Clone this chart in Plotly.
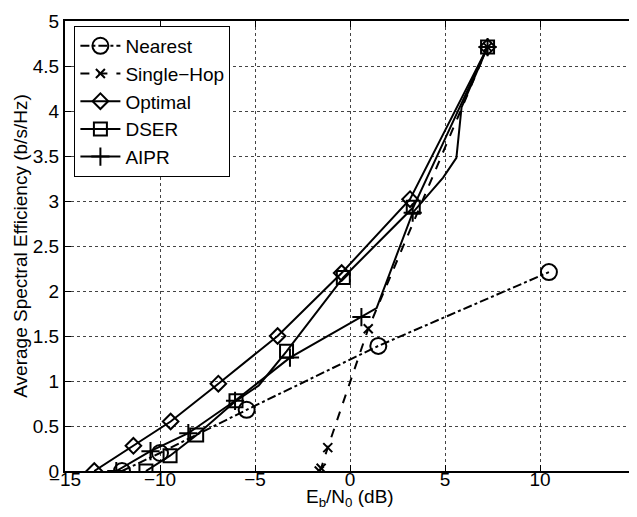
import plotly.graph_objects as go

# ---- data ----
nearest_x = [-12.0, -10.0, -5.44, 1.49, 10.47]
nearest_y = [0.0, 0.20, 0.68, 1.39, 2.21]

single_x = [-1.62, -1.52, -1.17, 0.96, 7.24]
single_y = [0.0, 0.03, 0.26, 1.58, 4.71]

optimal_x = [-13.46, -11.4, -9.44, -6.93, -3.81, -0.44, 3.16, 7.24]
optimal_y = [0.0, 0.28, 0.55, 0.97, 1.50, 2.20, 3.02, 4.71]

dser_x = [-10.74, -9.47, -8.07, -6.0, -4.8, -4.35, -3.34, -0.35, 3.33, 7.24]
dser_y = [0.0, 0.17, 0.40, 0.78, 0.95, 1.07, 1.33, 2.15, 2.93, 4.71]
dser_marked = [1, 1, 1, 1, 0, 0, 1, 1, 1, 1]

aipr_x = [-12.3, -10.5, -8.51, -6.05, -3.16, 0.6, 1.4, 3.3, 4.9, 5.6, 5.87, 7.24]
aipr_y = [0.0, 0.22, 0.42, 0.78, 1.26, 1.71, 1.81, 2.87, 3.26, 3.48, 4.04, 4.71]
aipr_marked = [1, 1, 1, 1, 1, 1, 0, 1, 0, 0, 0, 1]

x_ticks = [-15, -10, -5, 0, 5, 10, 15]
y_ticks = [0, 0.5, 1, 1.5, 2, 2.5, 3, 3.5, 4, 4.5, 5]

FONT = "Liberation Sans, Arial, Helvetica, sans-serif"
FS = 19
BLACK = "black"
LW = 2

fig = go.Figure()

def add(name, xs, ys, symbol, size, dash, marked=None):
    line = dict(color=BLACK, width=LW, dash=dash)
    marker = dict(symbol=symbol, size=size, color=BLACK,
                  line=dict(color=BLACK, width=2))
    if marked is None:
        fig.add_trace(go.Scatter(x=xs, y=ys, name=name, mode="lines+markers",
                                 line=line, marker=marker, legendgroup=name))
        return
    # full path (some vertices carry no marker in the reference)
    fig.add_trace(go.Scatter(x=xs, y=ys, mode="lines", line=line,
                             showlegend=False, legendgroup=name, hoverinfo="skip"))
    mx = [x for x, m in zip(xs, marked) if m]
    my = [y for y, m in zip(ys, marked) if m]
    fig.add_trace(go.Scatter(x=mx, y=my, mode="markers", marker=marker,
                             showlegend=False, legendgroup=name, name=name))
    # legend entry
    fig.add_trace(go.Scatter(x=[None], y=[None], name=name, mode="lines+markers",
                             line=line, marker=marker, legendgroup=name))

add("Nearest", nearest_x, nearest_y, "circle-open", 16, "dashdot")
add("Single\u2212Hop", single_x, single_y, "x-thin-open", 9, "dash")
add("Optimal", optimal_x, optimal_y, "diamond-open", 12, "solid")
add("DSER", dser_x, dser_y, "square-open", 13, "solid", dser_marked)
add("AIPR", aipr_x, aipr_y, "cross-thin-open", 13, "solid", aipr_marked)

axis_common = dict(
    showline=True, linecolor=BLACK, linewidth=2, mirror="allticks",
    ticks="inside", ticklen=6, tickwidth=1, tickcolor=BLACK,
    showgrid=True, gridcolor="#444444", griddash="dot", gridwidth=1,
    zeroline=False,
    tickfont=dict(family=FONT, size=FS, color=BLACK),
)

fig.update_layout(
    width=637, height=517,
    margin=dict(l=57, r=10, t=13, b=54, autoexpand=False),
    paper_bgcolor="white", plot_bgcolor="white",
    font=dict(family=FONT, size=FS, color=BLACK),
    showlegend=True,
    legend=dict(
        x=0.0165, y=0.989, xanchor="left", yanchor="top",
        bgcolor="white", bordercolor=BLACK, borderwidth=1,
        font=dict(family=FONT, size=FS, color=BLACK),
        tracegroupgap=0, itemwidth=40,
    ),
    xaxis=dict(range=[-15, 15], tickvals=x_ticks, ticklabelstandoff=-10,
               **axis_common),
    yaxis=dict(range=[0, 5], tickvals=y_ticks,
               ticktext=[("%g" % v) for v in y_ticks],
               title=dict(text="Average Spectral Efficiency (b/s/Hz)",
                          font=dict(family=FONT, size=FS), standoff=0),
               **axis_common),
    annotations=[dict(
        text="E<sub>b</sub>/N<sub>0</sub> (dB)", xref="paper", yref="paper",
        x=0.5, y=-0.028, xanchor="center", yanchor="top", showarrow=False,
        font=dict(family=FONT, size=FS, color=BLACK),
    )],
)

fig.write_html("out.html")
